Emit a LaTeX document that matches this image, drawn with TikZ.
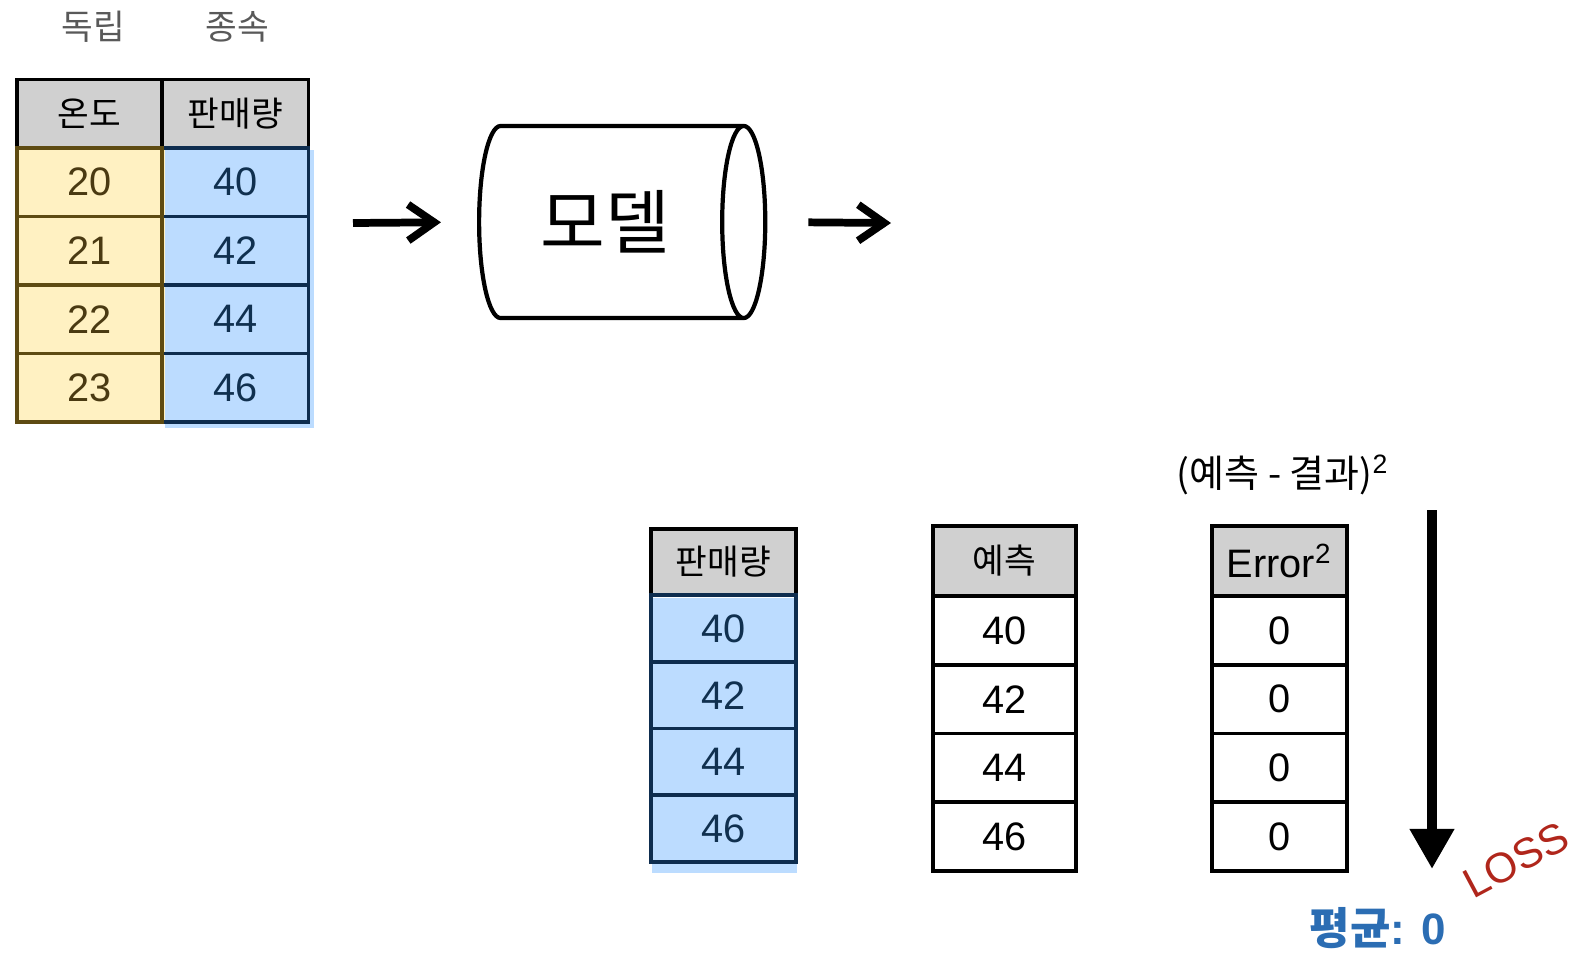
\documentclass[tikz,border=0pt]{standalone}
\usepackage{fontspec}
\setmainfont{Liberation Sans}
\newfontfamily\krfont{Noto Sans CJK KR}
\usetikzlibrary{positioning, arrows.meta, shapes.geometric}

\definecolor{hdrgray}{HTML}{D0D0D0}
\definecolor{ylwfill}{HTML}{FFF1C2}
\definecolor{ylwline}{HTML}{5E4B12}
\definecolor{ylwtext}{HTML}{4A3A12}
\definecolor{bluefill}{HTML}{BCDCFF}
\definecolor{blueline}{HTML}{0E2D4F}
\definecolor{bluetext}{HTML}{10304F}
\definecolor{lossred}{HTML}{B0261B}
\definecolor{meanblue}{HTML}{2B6DB3}

\begin{document}
\begin{tikzpicture}[
    x=0.01cm, y=-0.01cm,
    cell/.style={draw, line width=1pt, inner sep=0pt, outer sep=0pt,
      minimum width=1.45cm, minimum height=0.685cm,
      font=\fontsize{11.3}{13}\selectfont},
    hdr/.style={cell, fill=hdrgray, font=\krfont\fontsize{9.8}{12}\selectfont},
    tag/.style={font=\krfont\fontsize{9.8}{12}\selectfont},
    flow/.style={-{Straight Barb[length=2.6mm, width=3.6mm]}, line width=2.2pt},
    lossarrow/.style={-{Triangle[length=4mm, width=4.2mm]}, line width=3.1pt}
  ]
  \useasboundingbox (0,0) rectangle (1581,978);

  % --- INPUT TABLE ---
  \node[tag, text=black!65] (indep) at (93,27) {독립};
  \node[tag, text=black!65] (dep) at (237,27) {종속};
  \fill[ylwfill] (19,150) rectangle (166,424);
  \fill[bluefill] (165,150) rectangle (314,428);
  \node[hdr] (tempH) at (89.5,114) {온도};
  \node[hdr, minimum width=1.46cm] (salesH) at (235.5,114) {판매량};
  \foreach \t/\s [count=\i] in {20/40,21/42,22/44,23/46} {
    \node[cell, draw=blueline, text=bluetext, minimum width=1.46cm]
      (sales\i) at (235.5,{148+68.5*(\i-0.5)}) {\s};
    \node[cell, draw=ylwline, text=ylwtext]
      (temp\i) at (89.5,{148+68.5*(\i-0.5)}) {\t};
  }

  % --- MODEL ---
  \node[cylinder, draw, line width=1.2pt, shape aspect=0.5,
    minimum height=2.86cm, minimum width=1.92cm, anchor=west,
    font=\krfont\fontsize{20}{22}\selectfont] (model) at (477,222) {모델};
  \coordinate (inA) at (353,223);
  \coordinate (outA) at (891,223);
  \draw[flow, shorten >=0.36cm] (inA) -- (model.west);
  \draw[flow, shorten <=0.41cm] (model.east) -- (outA);

  % --- TARGET ---
  \node[hdr, minimum height=0.66cm] (tgtH) at (723.5,562) {판매량};
  \fill[bluefill] (652,598) rectangle (797,873);
  \foreach \s [count=\i] in {40,42,44,46}
    \node[cell, draw=blueline, text=bluetext, minimum height=0.6675cm]
      (tgt\i) at (723.5,{595+66.75*(\i-0.5)}) {\s};

  % --- PREDICTION ---
  \node[hdr, minimum width=1.43cm, minimum height=0.70cm] (predH) at (1004.5,561) {예측};
  \foreach \s [count=\i] in {40,42,44,46}
    \node[cell, minimum width=1.43cm, minimum height=0.6875cm]
      (pred\i) at (1004.5,{596+68.75*(\i-0.5)}) {\s};

  % --- ERROR ---
  \node[tag, font=\krfont\fontsize{10.8}{12}\selectfont] (formula) at (1283,475)
    {(예측 - 결과)\textsuperscript{\rmfamily 2}};
  \node[hdr, minimum width=1.35cm, minimum height=0.70cm,
    font=\fontsize{11.3}{13}\selectfont] (errH) at (1279.5,561) {Error\textsuperscript{2}};
  \foreach \i in {1,...,4}
    \node[cell, minimum width=1.35cm, minimum height=0.6875cm]
      (err\i) at (1279.5,{596+68.75*(\i-0.5)}) {0};

  % --- LOSS ---
  \coordinate (lossTop) at (1432,510);
  \coordinate (lossEnd) at (1432,869);
  \draw[lossarrow] (lossTop) -- (lossEnd);
  \node[rotate=28, inner sep=0pt, text=lossred, font=\fontsize{12}{14}\selectfont] (loss) at (1516,860) {LOSS};
  \node[inner sep=0pt, text=meanblue, font=\bfseries\fontsize{12.5}{14}\selectfont] (mean) at (1378,928)
    {{\krfont\bfseries 평균}: 0};
\end{tikzpicture}
\end{document}
